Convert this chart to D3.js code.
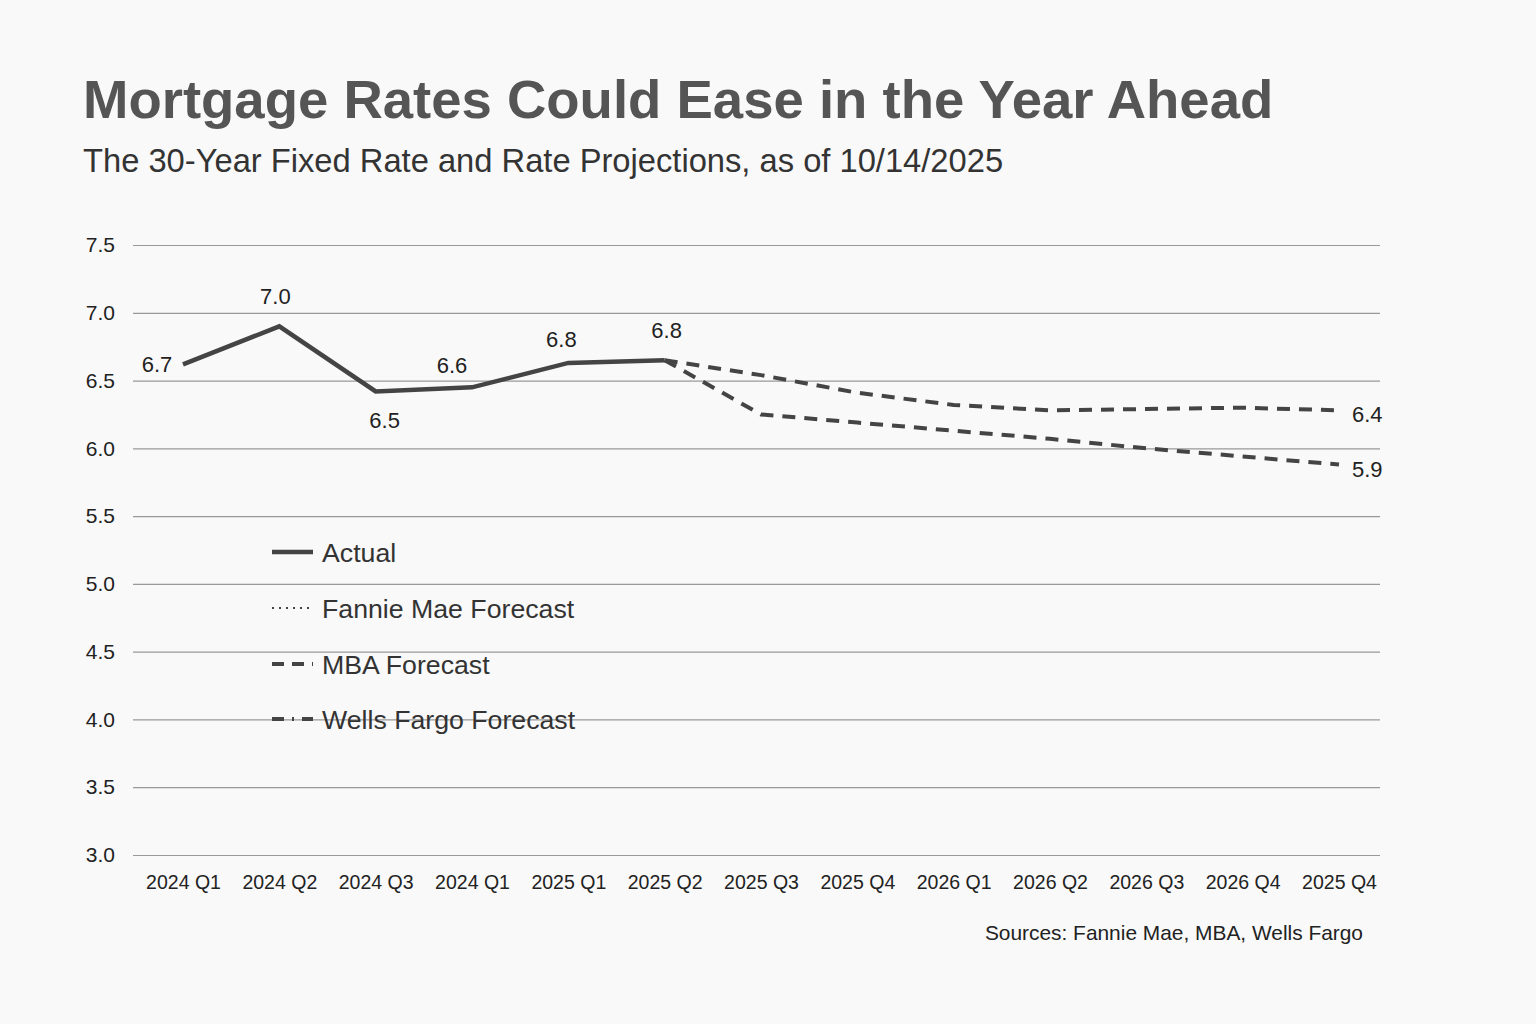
<!DOCTYPE html>
<html>
<head>
  <meta charset="utf-8"><script src="https://d3js.org/d3.v7.min.js"></script>
  <style>
    body { margin: 0; background: #f9f9f9; }
    text { font-family: "Liberation Sans", Arial, sans-serif; }
  </style>
</head>
<body>
  <svg id="mychart" width="1536" height="1024"></svg>
<script>
  // quarter labels as printed on the chart (duplicates are in the original)
  quarters = ["2024 Q1", "2024 Q2", "2024 Q3", "2024 Q1", "2025 Q1", "2025 Q2", "2025 Q3",
              "2025 Q4", "2026 Q1", "2026 Q2", "2026 Q3", "2026 Q4", "2025 Q4"]
  yTicks = [3.0, 3.5, 4.0, 4.5, 5.0, 5.5, 6.0, 6.5, 7.0, 7.5]

  actual       = [6.62, 6.90, 6.42, 6.45, 6.63, 6.65]
  actualLabels = ["6.7", "7.0", "6.5", "6.6", "6.8", "6.8"]
  mba          = [6.65, 6.54, 6.41, 6.32, 6.28, 6.29, 6.30, 6.28]
  wellsFargo   = [6.65, 6.25, 6.19, 6.13, 6.07, 6.00, 5.94, 5.88]
  forecastStart = 5
  endLabels = ["6.4", "5.9"]

  legendItems = ["Actual", "Fannie Mae Forecast", "MBA Forecast", "Wells Fargo Forecast"]

  width = 1536
  height = 1024
  margin = ({top: 245, right: 156, bottom: 169, left: 133})

  svg = d3.select("#mychart")
  svg.append("rect").attr("width", width).attr("height", height).attr("fill", "#f9f9f9")

  x = d3.scalePoint()
      .domain(d3.range(quarters.length))
      .range([183, 1339])

  y = d3.scaleLinear()
      .domain([3, 7.5])
      .range([height - margin.bottom, margin.top])

  // title
  svg.append("text")
      .attr("x", 83).attr("y", 118)
      .attr("font-size", 54.5).attr("font-weight", "bold")
      .attr("fill", "#555")
      .text("Mortgage Rates Could Ease in the Year Ahead")
  svg.append("text")
      .attr("x", 83).attr("y", 172)
      .attr("font-size", 32.7)
      .attr("fill", "#333")
      .text("The 30-Year Fixed Rate and Rate Projections, as of 10/14/2025")

  // grid + y labels
  yAxis = g => g
      .attr("transform", `translate(${margin.left},0)`)
      .call(d3.axisLeft(y).tickValues(yTicks).tickFormat(d3.format(".1f"))
          .tickSize(-(width - margin.left - margin.right)).tickPadding(18))
      .call(g => g.select(".domain").remove())
      .call(g => g.selectAll(".tick line").attr("stroke", "#999").attr("stroke-width", 1.2))
      .call(g => g.selectAll(".tick text").attr("font-size", 21).attr("fill", "#222")
          .attr("font-family", "Liberation Sans, Arial, sans-serif"))

  xAxis = g => g
      .attr("transform", `translate(0,${height - margin.bottom})`)
      .call(d3.axisBottom(x).tickFormat(i => quarters[i]).tickSize(0).tickPadding(20))
      .call(g => g.select(".domain").remove())
      .call(g => g.selectAll(".tick text").attr("font-size", 19.5).attr("fill", "#222")
          .attr("font-family", "Liberation Sans, Arial, sans-serif"))

  svg.append("g").call(yAxis)
  svg.append("g").call(xAxis)

  line = d3.line()
      .x(d => x(d.i))
      .y(d => y(d.v))

  toPts = (arr, start) => arr.map((v, k) => ({i: start + k, v}))

  // forecasts
  svg.append("path")
      .datum(toPts(wellsFargo, forecastStart))
      .attr("fill", "none").attr("stroke", "#444").attr("stroke-width", 4)
      .attr("stroke-dasharray", "13 9")
      .attr("d", line)
  svg.append("path")
      .datum(toPts(mba, forecastStart))
      .attr("fill", "none").attr("stroke", "#444").attr("stroke-width", 4)
      .attr("stroke-dasharray", "13 9")
      .attr("d", line)

  // actual
  svg.append("path")
      .datum(toPts(actual, 0))
      .attr("fill", "none").attr("stroke", "#444").attr("stroke-width", 4.5)
      .attr("stroke-linejoin", "miter")
      .attr("d", line)

  // data labels
  labelOffsets = [[-26, 8], [-4, -22], [9, 37], [-20, -14], [-7, -16], [2, -22]]
  svg.append("g").selectAll("text")
      .data(actual)
      .join("text")
      .attr("x", (d, i) => x(i) + labelOffsets[i][0])
      .attr("y", (d, i) => y(d) + labelOffsets[i][1])
      .attr("text-anchor", "middle")
      .attr("font-size", 22).attr("fill", "#222")
      .text((d, i) => actualLabels[i])

  ends = [mba, wellsFargo]
  svg.append("g").selectAll("text")
      .data(ends)
      .join("text")
      .attr("x", x(quarters.length - 1) + 13)
      .attr("y", d => y(d[d.length - 1]) + 12)
      .attr("font-size", 22).attr("fill", "#222")
      .text((d, i) => endLabels[i])

  // legend
  legendDash = [null, "2 5", "12 8", "12 8 2 8"]
  legendY = [552, 608, 664, 719]
  lg = svg.append("g").selectAll("g")
      .data(legendItems)
      .join("g")
      .attr("transform", (d, i) => `translate(272,${legendY[i]})`)
  lg.append("line")
      .attr("x1", 0).attr("x2", 41)
      .attr("stroke", "#444")
      .attr("stroke-width", (d, i) => i === 0 ? 4.5 : (i === 1 ? 2 : 4))
      .attr("stroke-dasharray", (d, i) => legendDash[i])
  lg.append("text")
      .attr("x", 50).attr("y", 10)
      .attr("font-size", 26.7).attr("fill", "#333")
      .text(d => d)

  svg.append("text")
      .attr("x", 1363).attr("y", 940)
      .attr("text-anchor", "end")
      .attr("font-size", 20.9).attr("fill", "#222")
      .text("Sources: Fannie Mae, MBA, Wells Fargo")
</script>
</body>
</html>
